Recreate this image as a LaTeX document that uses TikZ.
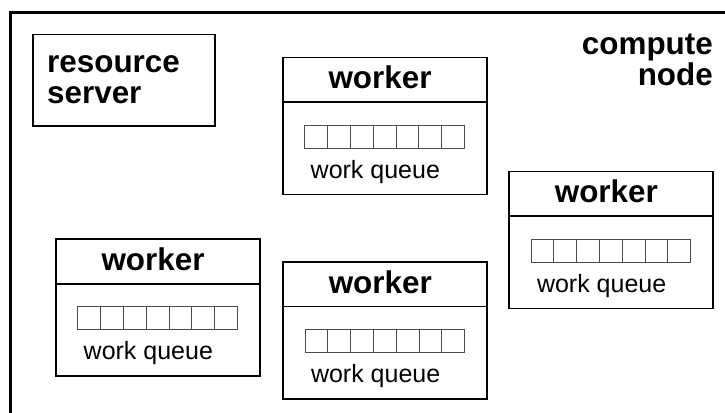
\documentclass[tikz,border=0pt]{standalone}
\usepackage{fontspec}
\setmainfont{Liberation Sans}
\begin{document}
\begin{tikzpicture}[x=1pt,y=-1pt,
box/.style={
% The shape:
rectangle,
draw=black,
line width=1.5pt,
anchor=north west,
inner sep=0pt
},
workerbox/.style={
box,
minimum width=204pt,
minimum height=137pt
},
cell/.style={
rectangle,
draw=black!70,
line width=0.9pt,
anchor=north west,
inner sep=0pt,
minimum size=22.8pt
},
title/.style={
font=\fontsize{31.4}{31}\selectfont\bfseries,
inner sep=0pt,
anchor=base
},
caption/.style={
font=\fontsize{25}{28}\selectfont,
inner sep=0pt,
anchor=base west
}
]
\useasboundingbox (0,0) rectangle (725,412);
\clip (0,0) rectangle (725,412);
\fill[white] (0,0) rectangle (725,412);
% compute node frame, runs off the right and bottom
\draw[line width=3pt] (10.3,12.2) rectangle (760,450);
% base of a two line node is the last line
\node[title,anchor=base east,align=right] (cnode) at (713,85) {compute\\node};

\node[box,minimum width=182pt,minimum height=91pt] (rs) at (32,34) {};
\node[title,anchor=base west,align=left] (rs-text) at (47,103.3) {resource\\server};

% workers: box, header, queue of 7 slots
\foreach \n/\x/\y in {w1/282/56.7, w2/508.3/170.7, w3/55/238.3, w4/282.3/261} {
  \node[workerbox] (\n) at (\x,\y) {};
  \node[title] (\n-title) at (\x+98,\y+32) {worker};
  \draw[line width=1.5pt] ([yshift=-45.5pt]\n.north west) -- ([yshift=-45.5pt]\n.north east);
  \foreach \i in {0,...,6}
    \node[cell] (\n-q\i) at (\x+22.3+\i*22.8,\y+68) {};
  \node[caption] (\n-queue) at (\x+28.5,\y+121.5) {work queue};
}
\end{tikzpicture}
\end{document}
